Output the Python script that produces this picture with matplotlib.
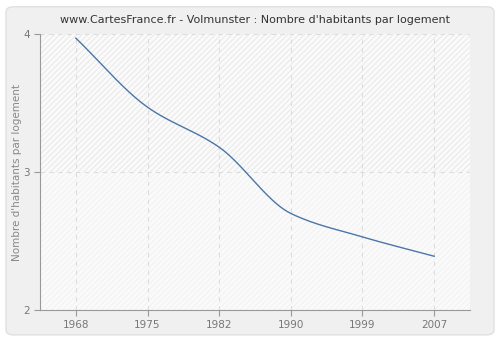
import numpy as np
import matplotlib.pyplot as plt
from matplotlib.patches import FancyBboxPatch, Rectangle

years = ['1968', '1975', '1982', '1990', '1999', '2007']
habitants = [3.97, 3.47, 3.18, 2.70, 2.53, 2.39]

plt.rcParams['hatch.linewidth'] = 0.5

# smooth curve through the points (monotone cubic hermite)
def pchip(x, y, n=40):
    x = np.asarray(x, float)
    y = np.asarray(y, float)
    h = np.diff(x)
    d = np.diff(y) / h
    m = np.zeros_like(y)
    for k in range(1, len(y) - 1):
        if d[k - 1] * d[k] > 0:
            w1 = 2 * h[k] + h[k - 1]
            w2 = h[k] + 2 * h[k - 1]
            m[k] = (w1 + w2) / (w1 / d[k - 1] + w2 / d[k])
    m[0] = d[0]
    m[-1] = d[-1]
    xs, ys = [], []
    for k in range(len(h)):
        t = np.linspace(0, 1, n)
        h00 = 2 * t**3 - 3 * t**2 + 1
        h10 = t**3 - 2 * t**2 + t
        h01 = -2 * t**3 + 3 * t**2
        h11 = t**3 - t**2
        xs.append(x[k] + t * h[k])
        ys.append(h00 * y[k] + h10 * h[k] * m[k] + h01 * y[k + 1] + h11 * h[k] * m[k + 1])
    return np.concatenate(xs), np.concatenate(ys)

xi = np.arange(len(years))
sx, sy = pchip(xi, habitants)

fig = plt.figure(figsize=(5, 3.4), dpi=100, facecolor='white')
bg = FancyBboxPatch((0.012, 0.015), 0.976, 0.965,
                    boxstyle='round,pad=0,rounding_size=0.015',
                    transform=fig.transFigure, facecolor='#f0f0f0',
                    edgecolor='#e0e0e0', linewidth=1, zorder=-5)
fig.patches.append(bg)

ax = fig.add_axes([0.08, 0.088, 0.86, 0.812])
ax.set_facecolor('#fafafa')
ax.add_patch(Rectangle((-0.5, 3), 6, 1, facecolor='none', edgecolor='#e2e2e2',
                       hatch='//////', linewidth=0, zorder=0))
ax.add_patch(Rectangle((-0.5, 2), 6, 1, facecolor='none', edgecolor='#efefef',
                       hatch='//////', linewidth=0, zorder=0))

ax.plot(sx, sy, color='#4a76a8', linewidth=1, zorder=3)

ax.set_xlim(-0.5, 5.5)
ax.set_ylim(2, 4)
ax.set_xticks(xi)
ax.set_xticklabels(years)
ax.set_yticks([2, 3, 4])
ax.grid(True, color='#dddddd', linestyle=(0, (4, 4)), linewidth=0.8)
ax.set_axisbelow(True)

for s in ['top', 'right']:
    ax.spines[s].set_visible(False)
for s in ['left', 'bottom']:
    ax.spines[s].set_color('#999999')
ax.tick_params(colors='#999999', labelcolor='#777777', labelsize=7.5, length=4)

ax.set_ylabel("Nombre d'habitants par logement", color='#888888', fontsize=7.5,
              labelpad=1)
ax.set_title("www.CartesFrance.fr - Volmunster : Nombre d'habitants par logement",
             color='#333333', fontsize=8, pad=8)

fig.savefig('out.png', dpi=100, facecolor=fig.get_facecolor())
